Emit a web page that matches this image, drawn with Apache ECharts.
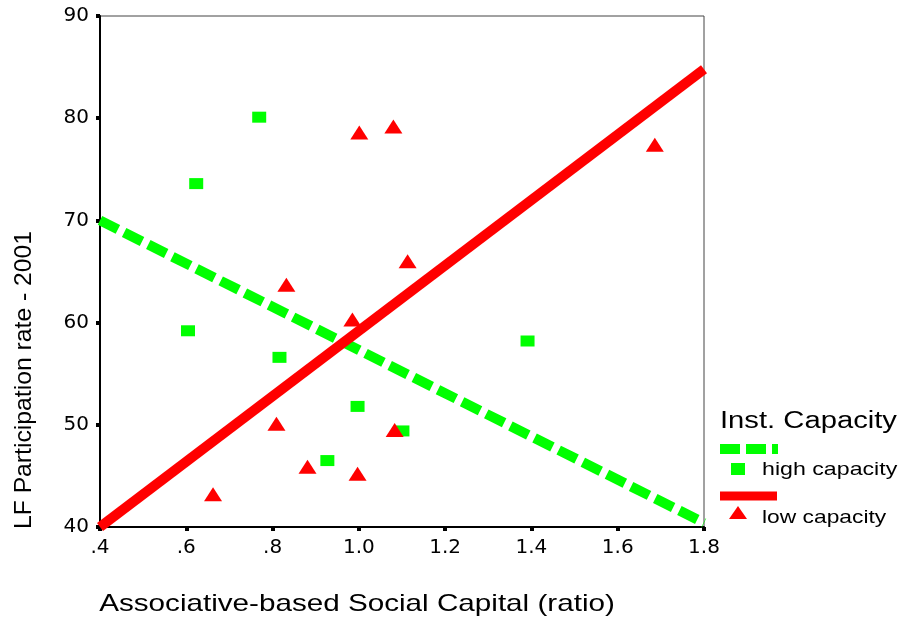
<!DOCTYPE html>
<html>
<head>
<meta charset="utf-8">
<script src="https://cdn.jsdelivr.net/npm/echarts@6/dist/echarts.min.js"></script>
<style>
html, body { margin: 0; padding: 0; background: #fff; }
#chart { width: 902px; height: 621px; }
</style>
</head>
<body>
<div id="chart"></div>
<script>
// high capacity group (green squares)
var highX = [0.769, 0.623, 0.604, 0.816, 0.997, 0.927, 1.101, 1.391];
var highY = [80.1, 73.6, 59.2, 56.6, 51.8, 46.5, 49.4, 58.2];
// low capacity group (red triangles)
var lowX = [0.662, 0.809, 0.881, 0.832, 0.985, 1.001, 1.080, 1.113, 1.083, 0.997, 1.686];
var lowY = [43.2, 50.1, 45.9, 63.7, 60.3, 78.6, 79.2, 66.0, 49.5, 45.2, 77.4];
// fit lines
var fitX = [0.4, 1.8];
var highFit = [70.0, 40.4];
var lowFit = [40.0, 84.8];

var xTicks = {0.4: '.4', 0.6: '.6', 0.8: '.8', 1: '1.0', 1.2: '1.2', 1.4: '1.4', 1.6: '1.6', 1.8: '1.8'};

function pairs(xs, ys) {
    var out = [];
    for (var i = 0; i < xs.length; i++) out.push([xs[i], ys[i]]);
    return out;
}

var green = '#00ff00';
var red = '#ff0000';
var font = '"Liberation Sans", Arial, sans-serif';
var tickFont = '"DejaVu Sans", sans-serif';

// stretched text like the original export
function label(txt, x, y, size, sx, rot) {
    return {
        type: 'text', x: x, y: y, scaleX: sx, rotation: rot || 0,
        style: { text: txt, fontFamily: font, fontSize: size, fill: '#000', align: 'left', verticalAlign: 'middle' }
    };
}

var myChart = echarts.init(document.getElementById('chart'));

var option = {
    animation: false,
    backgroundColor: '#fff',
    grid: { left: 100, right: 198, top: 16, bottom: 94, show: true, borderColor: '#444', borderWidth: 1 },
    xAxis: {
        type: 'value', min: 0.4, max: 1.8, interval: 0.2,
        axisLine: { lineStyle: { color: '#000', width: 2 } },
        axisTick: { length: 4, lineStyle: { color: '#000', width: 4 } },
        axisLabel: { fontFamily: tickFont, fontSize: 20, color: '#000', margin: 11,
            formatter: function (v) { return xTicks[Math.round(v * 10) / 10]; } },
        splitLine: { show: false }
    },
    yAxis: {
        type: 'value', min: 40, max: 90, interval: 10,
        axisLine: { lineStyle: { color: '#000', width: 2 } },
        axisTick: { length: 4, lineStyle: { color: '#000', width: 4 } },
        axisLabel: { fontFamily: tickFont, fontSize: 20, color: '#000', margin: 11 },
        splitLine: { show: false }
    },
    series: [
        {
            name: 'high fit', type: 'line', data: pairs(fitX, highFit),
            symbol: 'none', z: 3,
            lineStyle: { color: green, width: 10, type: [20, 7] }
        },
        {
            name: 'low fit', type: 'line', data: pairs(fitX, lowFit),
            symbol: 'none', z: 3,
            lineStyle: { color: red, width: 10 }
        },
        {
            name: 'high capacity', type: 'scatter', data: pairs(highX, highY),
            symbol: 'rect', symbolSize: [14, 11], z: 4,
            itemStyle: { color: green, opacity: 1 }
        },
        {
            name: 'low capacity', type: 'scatter', data: pairs(lowX, lowY),
            symbol: 'triangle', symbolSize: [18, 14], z: 5,
            itemStyle: { color: red, opacity: 1 }
        }
    ],
    graphic: [
        // axis titles
        {
            type: 'text', x: 357, y: 604, scaleX: 1.235,
            style: { text: 'Associative-based Social Capital (ratio)', fontFamily: font, fontSize: 24, fill: '#000', align: 'center', verticalAlign: 'middle' }
        },
        {
            type: 'text', x: 24, y: 380, scaleX: 1.03, rotation: Math.PI / 2,
            style: { text: 'LF Participation rate - 2001', fontFamily: font, fontSize: 24, fill: '#000', align: 'center', verticalAlign: 'middle' }
        },
        // legend
        label('Inst. Capacity', 720, 422, 23, 1.27),
        { type: 'line', shape: { x1: 720, y1: 449, x2: 778, y2: 449 }, style: { stroke: green, lineWidth: 10, lineDash: [20, 6] } },
        { type: 'rect', shape: { x: 731, y: 463, width: 14, height: 12 }, style: { fill: green } },
        label('high capacity', 762, 470, 19, 1.22),
        { type: 'line', shape: { x1: 720, y1: 496, x2: 777, y2: 496 }, style: { stroke: red, lineWidth: 9 } },
        { type: 'polygon', shape: { points: [[738, 506], [729, 519], [747, 519]] }, style: { fill: red } },
        label('low capacity', 762, 518, 19, 1.2)
    ]
};

myChart.setOption(option);
</script>
</body>
</html>
